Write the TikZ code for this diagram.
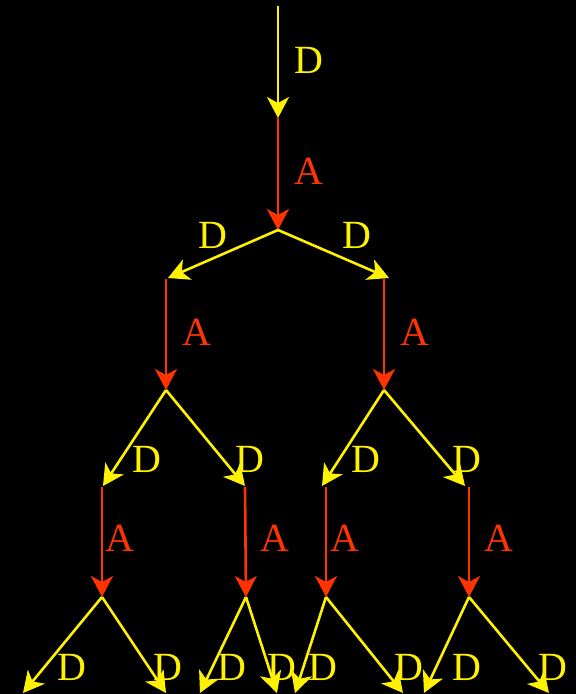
\documentclass[tikz,border=0pt]{standalone}
\usepackage{fontspec}
\setmainfont{Liberation Serif}
\usetikzlibrary{arrows.meta}
\definecolor{ared}{RGB}{255,51,0}

\begin{document}
\begin{tikzpicture}[x=1pt,y=-1pt,
		dstep/.style={-{Stealth[length=21pt,width=22pt,inset=6pt]}, yellow, line width=2.6pt},
		astep/.style={-{Stealth[length=21pt,width=22pt,inset=6pt]}, ared, line width=2.6pt},
		dlab/.style={yellow, inner sep=0pt, font=\fontsize{40}{41}\selectfont},
		alab/.style={ared, inner sep=0pt, font=\fontsize{40}{41}\selectfont}]
		% Black background and frame
		\fill[black] (0,0) rectangle (576,694);
		\useasboundingbox (0,0) rectangle (576,694);
		
		% Points of the tree
		\coordinate (top) at (278,6);
		\coordinate (a0) at (278,118);
		\coordinate (s0) at (278,230);
		\coordinate (tl) at (168,278);
		\coordinate (tr) at (389,278);
		\coordinate (al) at (166,279);
		\coordinate (ar) at (384,279);
		\coordinate (sl) at (166,390);
		\coordinate (sr) at (384,390);
		\coordinate (tll) at (103,486);
		\coordinate (tlr) at (245,486);
		\coordinate (trl) at (322,486);
		\coordinate (trr) at (465,486);
		\coordinate (all) at (102,487);
		\coordinate (alr) at (245,487);
		\coordinate (arl) at (326,487);
		\coordinate (arr) at (469,487);
		\coordinate (sll) at (102,597);
		\coordinate (slr) at (246,597);
		\coordinate (srl) at (326,597);
		\coordinate (srr) at (469,597);
		
		% Labels
		\node[dlab] (d0) at (309,60) {D};
		\node[alab] (l0) at (309,171) {A};
		\node[dlab] (dl) at (213,235) {D};
		\node[dlab] (dr) at (357,235) {D};
		\node[alab] (ll) at (197,332) {A};
		\node[alab] (lr) at (415,332) {A};
		\node[dlab] (dll) at (147,459) {D};
		\node[dlab] (dlr) at (250,459) {D};
		\node[dlab] (drl) at (366,459) {D};
		\node[dlab] (drr) at (467,459) {D};
		\node[alab] (lll) at (120,538) {A};
		\node[alab] (llr) at (275,538) {A};
		\node[alab] (lrl) at (345,538) {A};
		\node[alab] (lrr) at (499,538) {A};
		\node[dlab] (e1) at (72,667) {D};
		\node[dlab] (e2) at (168,667) {D};
		\node[dlab] (e3) at (232,667) {D};
		\node[dlab] (e4) at (282,667) {D};
		\node[dlab] (e5) at (323,667) {D};
		\node[dlab] (e6) at (409,667) {D};
		\node[dlab] (e7) at (467,667) {D};
		\node[dlab] (e8) at (553,667) {D};
		
		% Leaf ends
		\coordinate (f1) at (23,693);
		\coordinate (f2) at (166,693);
		\coordinate (f3) at (200,693);
		\coordinate (f4) at (277,693);
		\coordinate (f5) at (295,693);
		\coordinate (f6) at (403,693);
		\coordinate (f7) at (424,693);
		\coordinate (f8) at (549,693);
		
		% Trunk
		\draw[dstep] (top) -- (a0);
		\draw[astep] (a0) -- (s0);
		
		% First split
		\draw[dstep] (s0) -- (tl);
		\draw[dstep] (s0) -- (tr);
		\draw[astep] (al) -- (sl);
		\draw[astep] (ar) -- (sr);
		
		% Second split
		\draw[dstep] (sl) -- (tll);
		\draw[dstep] (sl) -- (tlr);
		\draw[dstep] (sr) -- (trl);
		\draw[dstep] (sr) -- (trr);
		\draw[astep] (all) -- (sll);
		\draw[astep] (alr) -- (slr);
		\draw[astep] (arl) -- (srl);
		\draw[astep] (arr) -- (srr);
		
		% Leaves
		\draw[dstep] (sll) -- (f1);
		\draw[dstep] (sll) -- (f2);
		\draw[dstep] (slr) -- (f3);
		\draw[dstep] (slr) -- (f4);
		\draw[dstep] (srl) -- (f5);
		\draw[dstep] (srl) -- (f6);
		\draw[dstep] (srr) -- (f7);
		\draw[dstep] (srr) -- (f8);
	\end{tikzpicture}
\end{document}
